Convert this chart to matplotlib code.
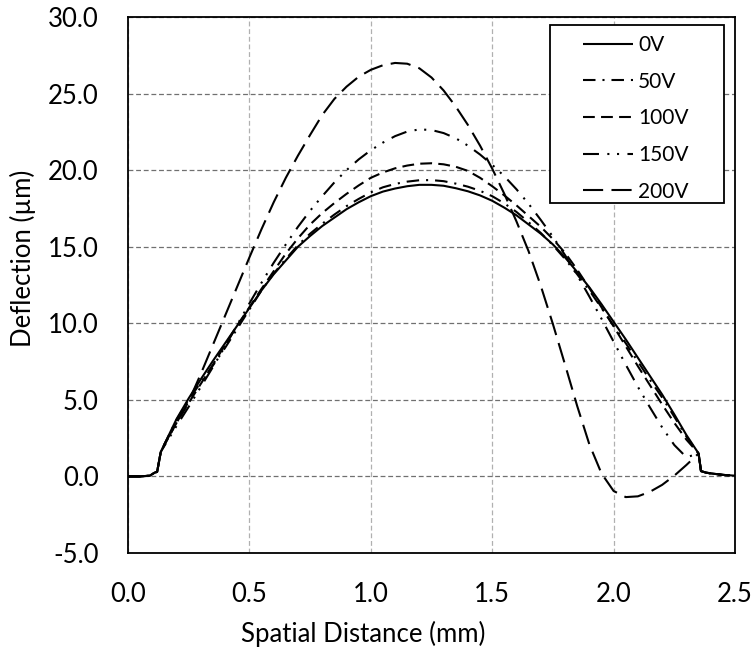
import matplotlib
matplotlib.use('Agg')
import matplotlib.pyplot as plt
from matplotlib.patches import Rectangle

plt.rcParams['font.family'] = ['Lato', 'DejaVu Sans']
plt.rcParams['lines.scale_dashes'] = False

# ---------------- data ----------------
x_mm = [0.0, 0.05, 0.09, 0.11, 0.12, 0.135,
        0.15, 0.2, 0.25, 0.3, 0.35, 0.4, 0.45, 0.5,
        0.55, 0.6, 0.65, 0.7, 0.75, 0.8, 0.85, 0.9, 0.95, 1.0,
        1.05, 1.1, 1.15, 1.2, 1.25, 1.3, 1.35, 1.4, 1.45, 1.5,
        1.55, 1.6, 1.65, 1.7, 1.75, 1.8, 1.85, 1.9, 1.95, 2.0,
        2.05, 2.1, 2.15, 2.2, 2.25, 2.3, 2.35,
        2.36, 2.38, 2.4, 2.45, 2.5]

y_0V = [0.0, 0.0, 0.05, 0.25, 0.3, 1.6,
        2.1, 3.75, 5.1, 6.35, 7.55, 8.7, 9.85, 11.0,
        12.15, 13.2, 14.1, 15.0, 15.7, 16.35, 16.9, 17.45, 17.9, 18.3,
        18.6, 18.8, 18.95, 19.04, 19.04, 18.98, 18.82, 18.62, 18.35, 18.0,
        17.55, 17.05, 16.45, 15.85, 15.15, 14.3, 13.35, 12.35, 11.25, 10.1,
        8.95, 7.75, 6.55, 5.35, 4.05, 2.7, 1.5,
        0.35, 0.25, 0.2, 0.1, 0.05]

y_50V = [0.0, 0.0, 0.05, 0.25, 0.3, 1.6,
         2.1, 3.7, 5.0, 6.15, 7.25, 8.4, 9.65, 10.9,
         12.15, 13.25, 14.2, 15.1, 15.85, 16.5, 17.1, 17.65, 18.12, 18.55,
         18.88, 19.1, 19.25, 19.34, 19.35, 19.28, 19.12, 18.92, 18.65, 18.3,
         17.83, 17.27, 16.6, 15.9, 15.1, 14.2, 13.2, 12.15, 11.0, 9.85,
         8.7, 7.5, 6.3, 5.15, 3.9, 2.6, 1.5,
         0.35, 0.25, 0.2, 0.1, 0.05]

y_100V = [0.0, 0.0, 0.05, 0.25, 0.3, 1.6,
          2.05, 3.5, 4.8, 6.05, 7.3, 8.6, 9.85, 11.05,
          12.25, 13.4, 14.55, 15.55, 16.45, 17.2, 17.85, 18.45, 19.0, 19.5,
          19.85, 20.12, 20.3, 20.42, 20.45, 20.38, 20.22, 19.95, 19.5, 18.95,
          18.35, 17.7, 17.0, 16.3, 15.5, 14.6, 13.5, 12.3, 11.05, 9.8,
          8.5, 7.2, 5.95, 4.7, 3.5, 2.4, 1.5,
          0.35, 0.25, 0.2, 0.1, 0.05]

y_150V = [0.0, 0.0, 0.05, 0.25, 0.3, 1.6,
          2.0, 3.3, 4.55, 5.85, 7.15, 8.5, 9.9, 11.3,
          12.65, 13.95, 15.15, 16.3, 17.35, 18.3, 19.2, 20.0, 20.7, 21.3,
          21.8, 22.22, 22.52, 22.66, 22.62, 22.42, 22.08, 21.6, 21.02, 20.35,
          19.6, 18.75, 17.8, 16.75, 15.65, 14.45, 13.15, 11.75, 10.3, 8.8,
          7.3, 5.85, 4.5, 3.2, 2.05, 1.25, 1.5,
          0.35, 0.25, 0.2, 0.1, 0.05]

y_200V = [0.0, 0.0, 0.05, 0.25, 0.3, 1.6,
          2.1, 3.5, 4.9, 6.7, 8.6, 10.5, 12.4, 14.3,
          16.15, 17.9, 19.5, 20.95, 22.3, 23.6, 24.65, 25.45, 26.1, 26.55,
          26.85, 27.0, 26.95, 26.65, 26.05, 25.2, 24.15, 22.95, 21.6, 20.1,
          18.45, 16.65, 14.7, 12.45, 9.95, 7.3, 4.6, 2.1, 0.2, -0.95,
          -1.35, -1.3, -1.0, -0.55, 0.05, 0.75, 1.5,
          0.35, 0.25, 0.2, 0.1, 0.05]

series_labels = ['0V', '50V', '100V', '150V', '200V']
series_values = [y_0V, y_50V, y_100V, y_150V, y_200V]

x_ticks = [0.0, 0.5, 1.0, 1.5, 2.0, 2.5]
y_ticks = [-5.0, 0.0, 5.0, 10.0, 15.0, 20.0, 25.0, 30.0]

# ---------------- styles ----------------
dash_styles = [
    '-',
    (0, (9, 5, 1.5, 5)),
    (0, (8.5, 4.5)),
    (0, (11.5, 6, 1.5, 5.5, 1.5, 6)),
    (0, (14.5, 6)),
]

W, H = 756, 653
fig = plt.figure(figsize=(W / 100, H / 100), dpi=100)
L, R, T, B = 128, 735, 17, 553
ax = fig.add_axes([L / W, (H - B) / H, (R - L) / W, (B - T) / H])

for lab, ys, ls in zip(series_labels, series_values, dash_styles):
    ax.plot(x_mm, ys, color='black', lw=1.5, linestyle=ls, label=lab,
            solid_capstyle='butt', dash_capstyle='butt', zorder=3)

ax.set_xlim(0, 2.5)
ax.set_ylim(-5, 30)
ax.set_xticks(x_ticks)
ax.set_yticks(y_ticks)
ax.set_xticklabels([f'{v:.1f}' for v in x_ticks])
ax.set_yticklabels([f'{v:.1f}' for v in y_ticks])
ax.tick_params(axis='both', length=0, labelsize=18.5, colors='black')
ax.tick_params(axis='y', pad=21)
ax.tick_params(axis='x', pad=21)

ax.yaxis.grid(True, color='#707070', linestyle=(0, (3.5, 2)), lw=0.9)
ax.xaxis.grid(True, color='#b0b0b0', linestyle=(0, (3.5, 2)), lw=0.9)
ax.set_axisbelow(True)

for s in ax.spines.values():
    s.set_linewidth(1.3)
    s.set_color('black')

# legend box
bx0, by0, bx1, by1 = 550, 25, 724, 203
ax.add_patch(Rectangle(((bx0 - L) / (R - L), (B - by1) / (B - T)),
                       (bx1 - bx0) / (R - L), (by1 - by0) / (B - T),
                       transform=ax.transAxes, facecolor='white',
                       edgecolor='black', lw=1.3, zorder=4))
leg = ax.legend(loc='upper left',
                bbox_to_anchor=((583 - L) / (R - L), (B - 35) / (B - T)),
                frameon=False, fontsize=15, borderpad=0, borderaxespad=0,
                handlelength=2.4, handletextpad=0.25, labelspacing=0.8)
leg.set_zorder(5)

fig.text(363 / W, 1 - 634 / H, 'Spatial Distance (mm)', ha='center',
         va='center', fontsize=18.5)
fig.text(23 / W, 1 - 258 / H, 'Deflection (µm)', ha='center', va='center',
         rotation=90, fontsize=18.5)

fig.savefig('out.png', dpi=100, facecolor='white')
